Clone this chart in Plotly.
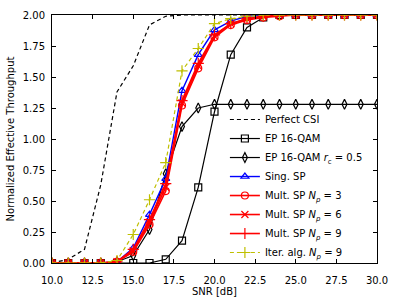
import plotly.graph_objects as go

snr = list(range(10, 31))

perfect_csi = [0.00, 0.03, 0.11, 0.63, 1.38, 1.59, 1.92, 1.99, 2.00, 2.00, 2.00,
               2.00, 2.00, 2.00, 2.00, 2.00, 2.00, 2.00, 2.00, 2.00, 2.00]
ep_16qam = [0.00, 0.00, 0.00, 0.00, 0.00, 0.00, 0.00, 0.03, 0.18, 0.61, 1.22,
            1.68, 1.90, 1.98, 2.00, 2.00, 2.00, 2.00, 2.00, 2.00, 2.00]
ep_16qam_rc = [0.00, 0.00, 0.00, 0.00, 0.01, 0.06, 0.27, 0.72, 1.10, 1.25, 1.28,
               1.28, 1.28, 1.28, 1.28, 1.28, 1.28, 1.28, 1.28, 1.28, 1.28]
sing_sp = [0.00, 0.00, 0.00, 0.00, 0.01, 0.12, 0.39, 0.68, 1.39, 1.68, 1.88,
           1.95, 1.99, 2.00, 2.00, 2.00, 2.00, 2.00, 2.00, 2.00, 2.00]
mult_sp3 = [0.00, 0.00, 0.00, 0.00, 0.01, 0.09, 0.31, 0.58, 1.27, 1.57, 1.82,
            1.92, 1.96, 1.98, 1.99, 2.00, 2.00, 2.00, 2.00, 2.00, 2.00]
mult_sp6 = [0.00, 0.00, 0.00, 0.00, 0.01, 0.10, 0.33, 0.61, 1.29, 1.59, 1.83,
            1.93, 1.97, 1.99, 2.00, 2.00, 2.00, 2.00, 2.00, 2.00, 2.00]
mult_sp9 = [0.00, 0.00, 0.00, 0.00, 0.01, 0.11, 0.35, 0.64, 1.31, 1.61, 1.84,
            1.93, 1.97, 1.99, 2.00, 2.00, 2.00, 2.00, 2.00, 2.00, 2.00]
iter_alg9 = [0.00, 0.00, 0.00, 0.00, 0.02, 0.23, 0.51, 0.81, 1.55, 1.73, 1.93,
             1.97, 1.99, 2.00, 2.00, 2.00, 2.00, 2.00, 2.00, 2.00, 2.00]

x_ticks = [10.0, 12.5, 15.0, 17.5, 20.0, 22.5, 25.0, 27.5, 30.0]
y_ticks = [0.00, 0.25, 0.50, 0.75, 1.00, 1.25, 1.50, 1.75, 2.00]

BLACK = "#000000"
BLUE = "#0000ff"
RED = "#ff0000"
YEL = "#bfbf00"

fig = go.Figure()

def add(y, name, color, dash="solid", symbol=None, width=1.2, msize=7):
    mode = "lines+markers" if symbol else "lines"
    marker = dict(symbol=symbol, size=msize, color=color,
                  line=dict(color=color, width=1.2)) if symbol else None
    fig.add_trace(go.Scatter(x=snr, y=y, name=name, mode=mode,
                             line=dict(color=color, width=width, dash=dash),
                             marker=marker))

add(perfect_csi, "Perfect CSI", BLACK, dash="4px,3px")
add(ep_16qam, "EP 16-QAM", BLACK, symbol="square-open")
add(ep_16qam_rc, "EP 16-QAM <i>r</i><sub>c</sub> = 0.5", BLACK, symbol="diamond-tall-open")
add(sing_sp, "Sing. SP", BLUE, symbol="triangle-up-open", width=1.4)
add(mult_sp3, "Mult. SP <i>N</i><sub><i>p</i></sub> = 3", RED, symbol="circle-open", width=1.6)
add(mult_sp6, "Mult. SP <i>N</i><sub><i>p</i></sub> = 6", RED, symbol="x-thin-open", width=1.6)
add(mult_sp9, "Mult. SP <i>N</i><sub><i>p</i></sub> = 9", RED, symbol="cross-thin-open", width=1.6, msize=8)
add(iter_alg9, "Iter. alg. <i>N</i><sub><i>p</i></sub> = 9", YEL, dash="4px,3px",
    symbol="cross-thin-open", msize=8)

axis_common = dict(showline=True, linecolor=BLACK, linewidth=1, mirror="ticks",
                   ticks="inside", ticklen=4, tickcolor=BLACK, tickwidth=1,
                   showgrid=False, zeroline=False, automargin=False,
                   tickfont=dict(family="DejaVu Sans", size=10, color=BLACK))

fig.update_layout(
    width=397, height=299,
    margin=dict(l=52, r=20, t=15, b=36),
    paper_bgcolor="white", plot_bgcolor="white",
    font=dict(family="DejaVu Sans", size=10, color=BLACK),
    xaxis=dict(range=[10, 30], tickvals=x_ticks, ticktext=[f"{v:.1f}" for v in x_ticks],
               ticklabelstandoff=8, **axis_common),
    yaxis=dict(range=[0, 2], tickvals=y_ticks, ticktext=[f"{v:.2f}" for v in y_ticks],
               ticklabelstandoff=4,
               title=dict(text="Normalized Effective Throughput", font=dict(size=10), standoff=6),
               **axis_common),
    legend=dict(x=0.532, xanchor="left", y=0.637, yanchor="top",
                bgcolor="rgba(0,0,0,0)", borderwidth=0,
                font=dict(family="DejaVu Sans", size=10, color=BLACK),
                tracegroupgap=0),
    annotations=[dict(text="SNR [dB]", xref="paper", yref="paper", x=0.5, y=-0.115,
                      xanchor="center", yanchor="middle", showarrow=False,
                      font=dict(family="DejaVu Sans", size=10, color=BLACK))],
    showlegend=True,
)

fig.write_html("out.html", config={"displayModeBar": False},
               post_script="document.body.style.margin='0';document.body.style.padding='0';document.body.style.overflow='hidden';")
